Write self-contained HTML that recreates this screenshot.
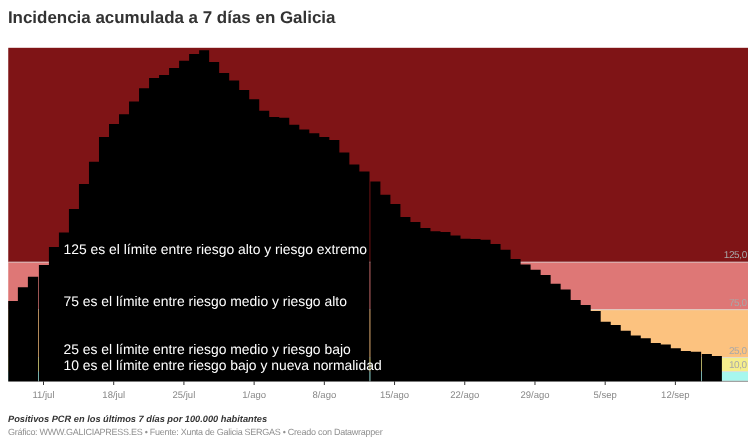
<!DOCTYPE html>
<html><head><meta charset="utf-8"><style>
html,body{margin:0;padding:0;background:#fff;width:756px;height:447px;overflow:hidden}
body{will-change:transform;text-rendering:geometricPrecision;font-family:"Liberation Sans",sans-serif;position:relative}
.title{position:absolute;left:7.9px;top:8.4px;font-size:16.95px;font-weight:bold;color:#333;white-space:nowrap;line-height:20px}
svg{position:absolute;left:0;top:0}
.ann{font-size:13.9px;fill:#fff}
.ylab{font-size:10px;letter-spacing:-0.4px;fill:#a8a8a8}
.xlab{font-size:9.5px;fill:#888}
.note{position:absolute;left:8px;top:414.2px;font-size:9.25px;font-weight:bold;font-style:italic;color:#333;white-space:nowrap}
.src{position:absolute;left:8px;top:427.2px;font-size:9px;letter-spacing:-0.27px;color:#909090;white-space:nowrap}
</style></head><body>
<div class="title">Incidencia acumulada a 7 días en Galicia</div>
<svg width="756" height="447" viewBox="0 0 756 447">
<rect x="8.25" y="47.8" width="739.75" height="214.30" fill="#7f1416"/>
<rect x="8.25" y="262.10" width="739.75" height="47.60" fill="#de7776"/>
<rect x="8.25" y="309.70" width="739.75" height="47.80" fill="#fcc27f"/>
<rect x="8.25" y="357.50" width="739.75" height="14.10" fill="#f5ee8c"/>
<rect x="8.25" y="371.60" width="739.75" height="9.20" fill="#a6f7ee"/>
<g stroke="#d9d9d9" stroke-opacity="0.75" stroke-width="1">
<line x1="8.25" x2="748" y1="262.10" y2="262.10"/>
<line x1="8.25" x2="748" y1="309.70" y2="309.70"/>
<line x1="8.25" x2="748" y1="357.50" y2="357.50"/>
<line x1="8.25" x2="748" y1="371.60" y2="371.60"/>
</g>
<g class="ylab" text-anchor="end">
<text x="746.8" y="258.1">125,0</text>
<text x="746.8" y="306.2">75,0</text>
<text x="746.8" y="353.8">25,0</text>
<text x="746.8" y="368.0">10,0</text>
</g>
<rect x="8.25" y="380.8" width="739.75" height="1" fill="#8c8c8c"/>
<path d="M8.25 381.2V301H17.87V381.2ZM17.87 381.2V287.3H27.88V381.2ZM27.88 381.2V276.8H38.20V381.2ZM38.90 381.2V265H48.92V381.2ZM48.92 381.2V247H58.93V381.2ZM58.93 381.2V232.4H68.94V381.2ZM68.94 381.2V209H78.96V381.2ZM78.96 381.2V184H88.97V381.2ZM88.97 381.2V161.7H98.99V381.2ZM98.99 381.2V137H109.00V381.2ZM109.00 381.2V124H119.02V381.2ZM119.02 381.2V114.3H129.03V381.2ZM129.03 381.2V101.4H139.05V381.2ZM139.05 381.2V88.3H149.06V381.2ZM149.06 381.2V78.1H159.07V381.2ZM159.07 381.2V74.9H169.09V381.2ZM169.09 381.2V68H179.10V381.2ZM179.10 381.2V60.7H189.12V381.2ZM189.12 381.2V54H199.13V381.2ZM199.13 381.2V50.2H209.15V381.2ZM209.15 381.2V61.9H219.16V381.2ZM219.16 381.2V72.9H229.18V381.2ZM229.18 381.2V80.5H239.19V381.2ZM239.19 381.2V90H249.21V381.2ZM249.21 381.2V99.3H259.22V381.2ZM259.22 381.2V110.7H269.23V381.2ZM269.23 381.2V117H279.25V381.2ZM279.25 381.2V117.8H289.26V381.2ZM289.26 381.2V124.8H299.28V381.2ZM299.28 381.2V129.4H309.29V381.2ZM309.29 381.2V133.3H319.31V381.2ZM319.31 381.2V137.1H329.32V381.2ZM329.32 381.2V140.1H339.34V381.2ZM339.34 381.2V152.6H349.35V381.2ZM349.35 381.2V164.5H359.36V381.2ZM359.36 381.2V171.5H369.50V381.2ZM370.38 381.2V181.6H380.40V381.2ZM380.40 381.2V194.8H390.41V381.2ZM390.41 381.2V204H400.42V381.2ZM400.42 381.2V217.1H410.44V381.2ZM410.44 381.2V221.9H420.45V381.2ZM420.45 381.2V228H430.47V381.2ZM430.47 381.2V231.2H440.48V381.2ZM440.48 381.2V232H450.50V381.2ZM450.50 381.2V235.4H460.51V381.2ZM460.51 381.2V238.7H470.53V381.2ZM470.53 381.2V239H480.54V381.2ZM480.54 381.2V239.8H490.55V381.2ZM490.55 381.2V244H500.57V381.2ZM500.57 381.2V249.8H510.58V381.2ZM510.58 381.2V259H520.60V381.2ZM520.60 381.2V264.6H530.61V381.2ZM530.61 381.2V269.7H540.63V381.2ZM540.63 381.2V275H550.64V381.2ZM550.64 381.2V283.7H560.66V381.2ZM560.66 381.2V289.4H570.67V381.2ZM570.67 381.2V300H580.69V381.2ZM580.69 381.2V305.1H590.70V381.2ZM590.70 381.2V311H600.71V381.2ZM600.71 381.2V321.7H610.73V381.2ZM610.73 381.2V325.1H620.74V381.2ZM620.74 381.2V330.8H630.76V381.2ZM630.76 381.2V335.5H640.77V381.2ZM640.77 381.2V338.3H650.79V381.2ZM650.79 381.2V343.1H660.80V381.2ZM660.80 381.2V344.5H670.82V381.2ZM670.82 381.2V348.3H680.83V381.2ZM680.83 381.2V350.9H690.84V381.2ZM690.84 381.2V351.8H701.16V381.2ZM701.86 381.2V354H711.88V381.2ZM711.88 381.2V355.9H721.89V381.2Z" fill="#000"/>
<line x1="43.50" x2="43.50" y1="381.2" y2="385" stroke="#333" stroke-width="1"/><line x1="113.71" x2="113.71" y1="381.2" y2="385" stroke="#333" stroke-width="1"/><line x1="183.92" x2="183.92" y1="381.2" y2="385" stroke="#333" stroke-width="1"/><line x1="254.13" x2="254.13" y1="381.2" y2="385" stroke="#333" stroke-width="1"/><line x1="324.34" x2="324.34" y1="381.2" y2="385" stroke="#333" stroke-width="1"/><line x1="394.55" x2="394.55" y1="381.2" y2="385" stroke="#333" stroke-width="1"/><line x1="464.76" x2="464.76" y1="381.2" y2="385" stroke="#333" stroke-width="1"/><line x1="534.97" x2="534.97" y1="381.2" y2="385" stroke="#333" stroke-width="1"/><line x1="605.18" x2="605.18" y1="381.2" y2="385" stroke="#333" stroke-width="1"/><line x1="675.39" x2="675.39" y1="381.2" y2="385" stroke="#333" stroke-width="1"/>
<g class="xlab"><text x="43.50" y="398" text-anchor="middle">11/jul</text><text x="113.71" y="398" text-anchor="middle">18/jul</text><text x="183.92" y="398" text-anchor="middle">25/jul</text><text x="254.13" y="398" text-anchor="middle">1/ago</text><text x="324.34" y="398" text-anchor="middle">8/ago</text><text x="394.55" y="398" text-anchor="middle">15/ago</text><text x="464.76" y="398" text-anchor="middle">22/ago</text><text x="534.97" y="398" text-anchor="middle">29/ago</text><text x="605.18" y="398" text-anchor="middle">5/sep</text><text x="675.39" y="398" text-anchor="middle">12/sep</text></g>
<g class="ann">
<text x="63.5" y="254.3">125 es el límite entre riesgo alto y riesgo extremo</text>
<text x="63.5" y="306.0">75 es el límite entre riesgo medio y riesgo alto</text>
<text x="63.5" y="353.8">25 es el límite entre riesgo medio y riesgo bajo</text>
<text x="63.5" y="369.6">10 es el límite entre riesgo bajo y nueva normalidad</text>
</g>
</svg>
<div class="note">Positivos PCR en los últimos 7 días por 100.000 habitantes</div>
<div class="src">Gráfico: WWW.GALICIAPRESS.ES • Fuente: Xunta de Galicia SERGAS • Creado con Datawrapper</div>
</body></html>
